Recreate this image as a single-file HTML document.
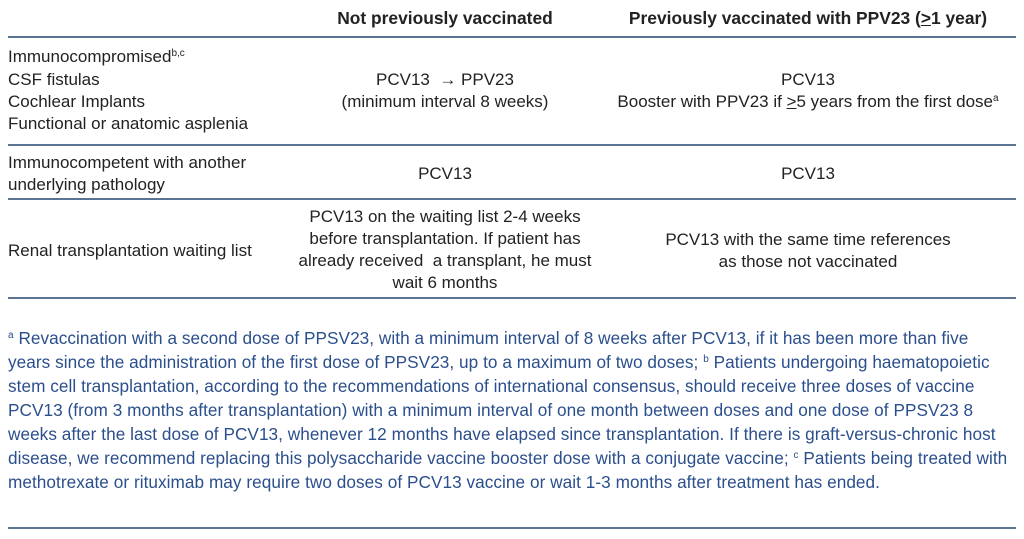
<!DOCTYPE html>
<html><head><meta charset="utf-8"><style>
body{margin:0;width:1024px;height:539px;background:#fff;position:relative;overflow:hidden;font-family:"Liberation Sans",sans-serif;color:#222;}
.t{position:absolute;white-space:nowrap;font-size:17px;line-height:22px;}
.c{transform:translateX(-50%);text-align:center;}
.h{font-weight:bold;font-size:17.4px;}
.ln{position:absolute;left:8px;width:1008px;height:2px;background:#5a7491;}
.f{position:absolute;left:8px;white-space:nowrap;font-size:17.2px;line-height:24px;color:#2b4f8c;letter-spacing:0.05px;}
sup{font-size:10px;vertical-align:6px;line-height:0}
</style></head><body>
<div class="t c h" style="left:445px;top:7px">Not previously vaccinated</div>
<div class="t c h" style="left:808px;top:7px">Previously vaccinated with PPV23 (<u>&gt;</u>1 year)</div>
<div class="ln" style="top:36px"></div>
<div class="t" style="left:8px;top:46px">Immunocompromised<sup>b,c</sup></div>
<div class="t" style="left:8px;top:69px">CSF fistulas</div>
<div class="t" style="left:8px;top:91px">Cochlear Implants</div>
<div class="t" style="left:8px;top:113px">Functional or anatomic asplenia</div>
<div class="t c" style="left:445px;top:69px">PCV13 &nbsp;→ PPV23<br>(minimum interval 8 weeks)</div>
<div class="t c" style="left:808px;top:69px">PCV13<br>Booster with PPV23 if <u>&gt;</u>5 years from the first dose<sup>a</sup></div>
<div class="ln" style="top:144px"></div>
<div class="t" style="left:8px;top:152px">Immunocompetent with another<br>underlying pathology</div>
<div class="t c" style="left:445px;top:163px">PCV13</div>
<div class="t c" style="left:808px;top:163px">PCV13</div>
<div class="ln" style="top:198px"></div>
<div class="t" style="left:8px;top:240px">Renal transplantation waiting list</div>
<div class="t c" style="left:445px;top:206px">PCV13 on the waiting list 2-4 weeks<br>before transplantation. If patient has<br>already received &nbsp;a transplant, he must<br>wait 6 months</div>
<div class="t c" style="left:808px;top:229px">PCV13 with the same time references<br>as those not vaccinated</div>
<div class="ln" style="top:297px"></div>
<div class="f" style="top:326px"><sup>a</sup> Revaccination with a second dose of PPSV23, with a minimum interval of 8 weeks after PCV13, if it has been more than five<br>years since the administration of the first dose of PPSV23, up to a maximum of two doses; <sup>b</sup> Patients undergoing haematopoietic<br>stem cell transplantation, according to the recommendations of international consensus, should receive three doses of vaccine<br>PCV13 (from 3 months after transplantation) with a minimum interval of one month between doses and one dose of PPSV23 8<br>weeks after the last dose of PCV13, whenever 12 months have elapsed since transplantation. If there is graft-versus-chronic host<br>disease, we recommend replacing this polysaccharide vaccine booster dose with a conjugate vaccine; <sup>c</sup> Patients being treated with<br>methotrexate or rituximab may require two doses of PCV13 vaccine or wait 1-3 months after treatment has ended.</div>
<div class="ln" style="top:527px"></div>
</body></html>
